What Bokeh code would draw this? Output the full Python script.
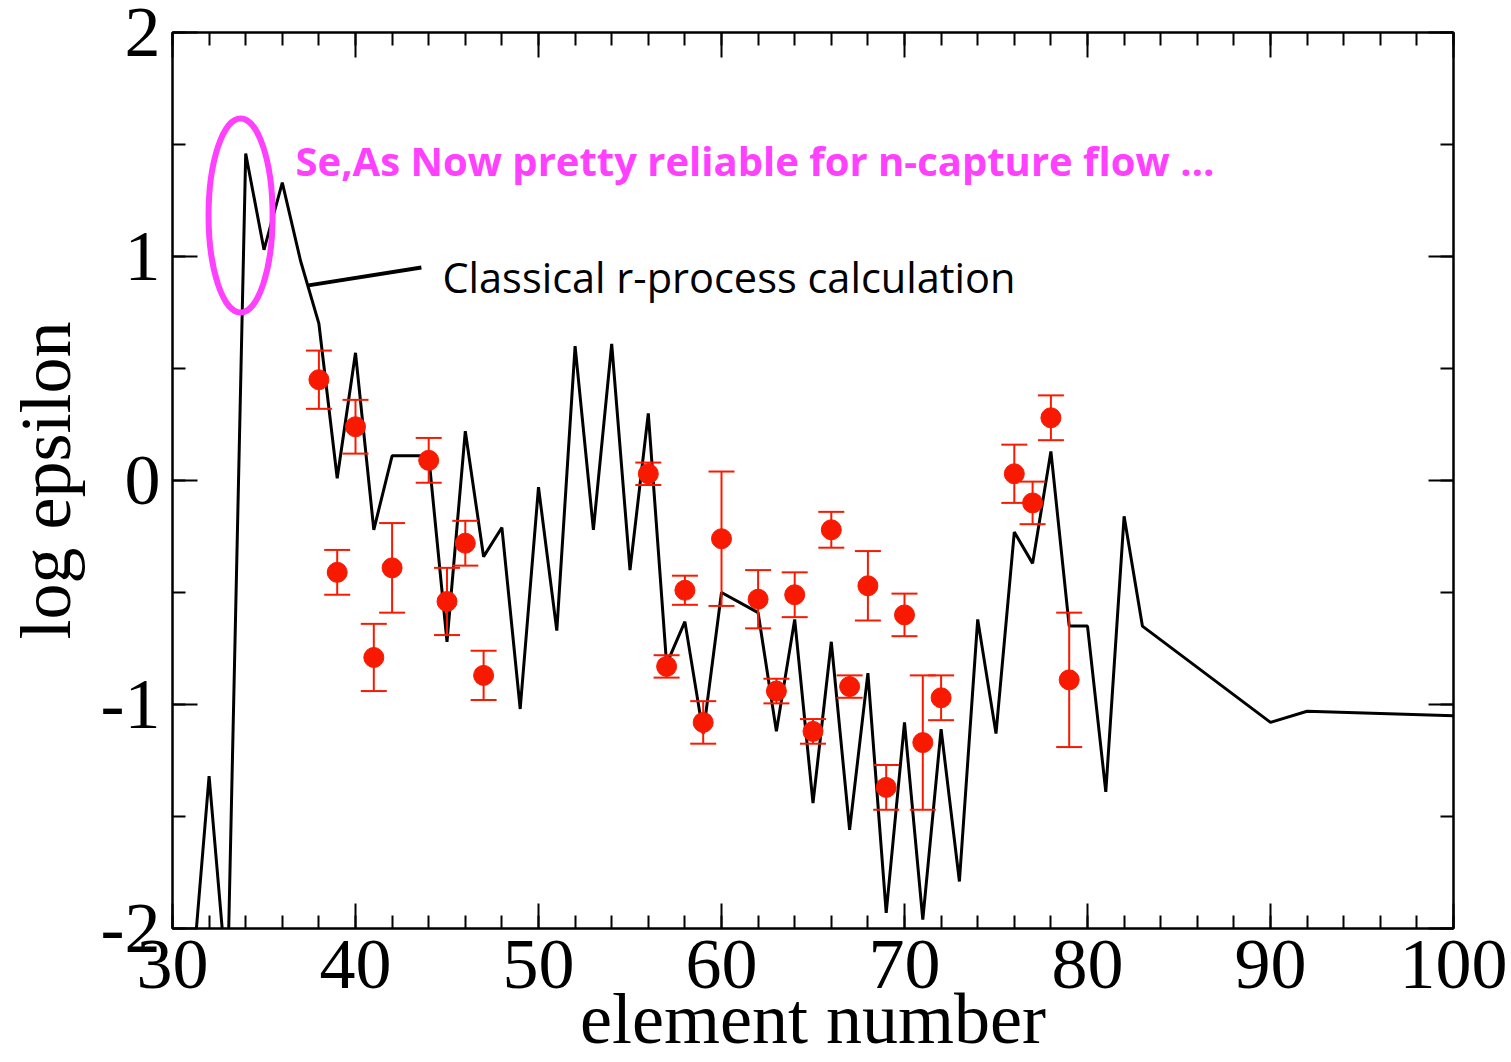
import numpy as np
from bokeh.plotting import figure
from bokeh.models import Range1d, LinearAxis, FixedTicker, CustomJSTickFormatter, Label
from bokeh.embed import file_html
from bokeh.resources import INLINE
from bokeh.core.properties import value

# Classical r-process calculation (element number vs log epsilon)
model_z = [31, 32, 33, 34, 35, 36, 37, 38, 39, 40, 41, 42, 44, 45, 46, 47, 48, 49, 50,
           51, 52, 53, 54, 55, 56, 57, 58, 59, 60, 62, 63, 64, 65, 66, 67, 68, 69, 70,
           71, 72, 73, 74, 75, 76, 77, 78, 79, 80, 81, 82, 83, 90, 92, 100]
model_logeps = [-2.30, -1.32, -2.27, 1.46, 1.03, 1.33, 0.98, 0.70, 0.01, 0.57, -0.22, 0.11,
                0.11, -0.72, 0.22, -0.34, -0.21, -1.02, -0.03, -0.67, 0.60, -0.22, 0.61,
                -0.40, 0.30, -0.82, -0.63, -1.13, -0.50, -0.59, -1.12, -0.62, -1.44, -0.72,
                -1.56, -0.86, -1.93, -1.08, -1.96, -1.11, -1.79, -0.62, -1.13, -0.23, -0.37,
                0.13, -0.65, -0.65, -1.39, -0.16, -0.65, -1.08, -1.03, -1.05]

# Observed abundances with error bars
obs_z = [38, 39, 40, 41, 42, 44, 45, 46, 47, 56, 57, 58, 59, 60, 62, 63, 64, 65, 66, 67,
         68, 69, 70, 71, 72, 76, 77, 78, 79]
obs_logeps = [0.45, -0.41, 0.24, -0.79, -0.39, 0.09, -0.54, -0.28, -0.87, 0.03, -0.83,
              -0.49, -1.08, -0.26, -0.53, -0.94, -0.51, -1.12, -0.22, -0.92, -0.47, -1.37,
              -0.60, -1.17, -0.97, 0.03, -0.10, 0.28, -0.89]
obs_err = [0.13, 0.10, 0.12, 0.15, 0.20, 0.10, 0.15, 0.10, 0.11, 0.05, 0.05, 0.065, 0.095,
           0.30, 0.13, 0.055, 0.10, 0.055, 0.08, 0.05, 0.155, 0.10, 0.095, 0.30, 0.10, 0.13,
           0.095, 0.10, 0.30]

x_major = [30, 40, 50, 60, 70, 80, 90, 100]
x_minor = list(range(30, 101, 2))
y_major = [-2, -1, 0, 1, 2]
y_minor = [-2, -1.5, -1, -0.5, 0, 0.5, 1, 1.5, 2]
y_labels = ["-2", "-1", "0", "1", "2"]
x_labels = ["30", "40", "50", "60", "70", "80", "90", "100"]
x_title = "element number"
y_title = "log epsilon"

RED = "#F81A00"
MAGENTA = "#FF40FF"
SERIF = "Liberation Serif"

p = figure(width=1511, height=1062, x_range=Range1d(30, 100), y_range=Range1d(-2, 2),
           output_backend="svg", toolbar_location=None,
           min_border_left=172, min_border_right=58, min_border_top=32, min_border_bottom=134)
p.background_fill_color = "white"
p.border_fill_color = "white"
p.grid.visible = False
p.outline_line_color = "black"
p.outline_line_width = 2

def style_axis(ax, ticks, minor):
    ax.ticker = FixedTicker(ticks=ticks, minor_ticks=minor)
    ax.axis_line_color = "black"
    ax.axis_line_width = 2
    ax.major_tick_line_color = "black"
    ax.major_tick_line_width = 2
    ax.minor_tick_line_color = "black"
    ax.minor_tick_line_width = 2
    ax.major_tick_in = 25
    ax.major_tick_out = 0
    ax.minor_tick_in = 13
    ax.minor_tick_out = 0
    ax.major_label_text_font = SERIF
    ax.major_label_text_font_size = "72px"
    ax.major_label_text_color = "black"
    ax.axis_label_text_font = SERIF
    ax.axis_label_text_font_size = "72px"
    ax.axis_label_text_font_style = "normal"
    ax.axis_label_text_color = "black"

xa = p.xaxis[0]
style_axis(xa, x_major, x_minor)
xa.major_label_overrides = {t: s for t, s in zip(x_major, x_labels)}
xa.axis_label = x_title
xa.major_label_standoff = 12
xa.axis_label_standoff = -12

ya = p.yaxis[0]
style_axis(ya, y_major, y_minor)
ya.major_label_overrides = {t: s for t, s in zip(y_major, y_labels)}
ya.axis_label = y_title
ya.major_label_standoff = 12
ya.axis_label_standoff = 12

top = LinearAxis(formatter=CustomJSTickFormatter(code="return ''"))
style_axis(top, x_major, x_minor)
top.major_label_text_font_size = "1px"
top.major_label_standoff = 0
p.add_layout(top, "above")

right = LinearAxis(formatter=CustomJSTickFormatter(code="return ''"))
style_axis(right, y_major, y_minor)
right.major_label_text_font_size = "1px"
right.major_label_standoff = 0
p.add_layout(right, "right")

# model line
p.line(model_z, model_logeps, line_color="black", line_width=3)

# error bars
oz = np.array(obs_z, dtype=float)
oy = np.array(obs_logeps)
oe = np.array(obs_err)
p.segment(x0=oz, y0=oy - oe, x1=oz, y1=oy + oe, line_color=RED, line_width=2)
p.scatter(x=oz, y=oy + oe, marker="dash", size=26, line_color=RED, line_width=2)
p.scatter(x=oz, y=oy - oe, marker="dash", size=26, line_color=RED, line_width=2)
p.scatter(x=oz, y=oy, marker="circle", size=20, fill_color=RED, line_color=RED)

# annotations
p.ellipse(x=[33.72], y=[1.183], width=3.5, height=0.866, fill_color=None,
          line_color=MAGENTA, line_width=6)
p.segment(x0=[37.43], y0=[0.871], x1=[43.6], y1=[0.951], line_color="black", line_width=4)

p.add_layout(Label(x=36.72, y=1.429, text="Se,As Now pretty reliable for n-capture flow …",
                   text_font="Open Sans", text_font_style="bold", text_font_size="40px",
                   text_color=MAGENTA, text_baseline="alphabetic", text_align="left"))
p.add_layout(Label(x=44.75, y=0.907, text="Classical r-process calculation",
                   text_font="Open Sans", text_font_size="41.5px",
                   text_color="black", text_baseline="alphabetic", text_align="left"))

open("out.html", "w").write(file_html(p, INLINE))
